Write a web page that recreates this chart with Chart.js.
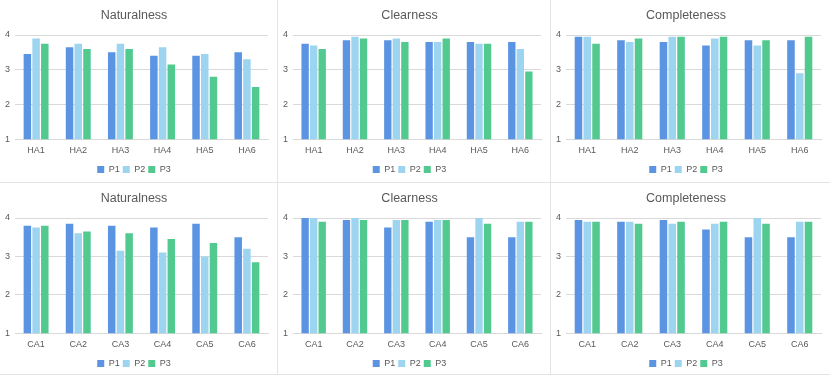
<!DOCTYPE html>
<html><head><meta charset="utf-8">
<script src="https://cdn.jsdelivr.net/npm/chart.js@4"></script>
<style>
body{margin:0;background:#fff;width:830px;height:376px;position:relative;overflow:hidden;}
.p{position:absolute;}
.ln{position:absolute;background:#e4e4e4;}
</style></head><body>
<div class="p" style="left:0;top:0;width:277px;height:182px"><canvas id="c1"></canvas></div>
<div class="p" style="left:278px;top:0;width:272px;height:182px"><canvas id="c2"></canvas></div>
<div class="p" style="left:551px;top:0;width:279px;height:182px"><canvas id="c3"></canvas></div>
<div class="p" style="left:0;top:183px;width:277px;height:193px"><canvas id="c4"></canvas></div>
<div class="p" style="left:278px;top:183px;width:272px;height:193px"><canvas id="c5"></canvas></div>
<div class="p" style="left:551px;top:183px;width:279px;height:193px"><canvas id="c6"></canvas></div>
<div class="ln" style="left:277px;top:0;width:1px;height:375px"></div>
<div class="ln" style="left:550px;top:0;width:1px;height:375px"></div>
<div class="ln" style="left:0;top:182px;width:830px;height:1px"></div>
<div class="ln" style="left:0;top:374px;width:830px;height:1px"></div>
<script>
const haCategories = ['HA1','HA2','HA3','HA4','HA5','HA6'];
const caCategories = ['CA1','CA2','CA3','CA4','CA5','CA6'];
const seriesNames = ['P1','P2','P3'];
const yTicks = [1,2,3,4];

const haNaturalnessP1 = [3.45,3.65,3.5,3.4,3.4,3.5];
const haNaturalnessP2 = [3.9,3.75,3.75,3.65,3.45,3.3];
const haNaturalnessP3 = [3.75,3.6,3.6,3.15,2.8,2.5];

const haClearnessP1 = [3.75,3.85,3.85,3.8,3.8,3.8];
const haClearnessP2 = [3.7,3.95,3.9,3.8,3.75,3.6];
const haClearnessP3 = [3.6,3.9,3.8,3.9,3.75,2.95];

const haCompletenessP1 = [3.95,3.85,3.8,3.7,3.85,3.85];
const haCompletenessP2 = [3.95,3.8,3.95,3.9,3.7,2.9];
const haCompletenessP3 = [3.75,3.9,3.95,3.95,3.85,3.95];

const caNaturalnessP1 = [3.8,3.85,3.8,3.75,3.85,3.5];
const caNaturalnessP2 = [3.75,3.6,3.15,3.1,3.0,3.2];
const caNaturalnessP3 = [3.8,3.65,3.6,3.45,3.35,2.85];

const caClearnessP1 = [4.0,3.95,3.75,3.9,3.5,3.5];
const caClearnessP2 = [4.0,4.0,3.95,3.95,4.0,3.9];
const caClearnessP3 = [3.9,3.95,3.95,3.95,3.85,3.9];

const caCompletenessP1 = [3.95,3.9,3.95,3.7,3.5,3.5];
const caCompletenessP2 = [3.9,3.9,3.85,3.85,4.0,3.9];
const caCompletenessP3 = [3.9,3.85,3.9,3.9,3.85,3.9];

const colors = ['#5b94e2','#9dd4f0','#52c98f'];
const FONT = "'Liberation Sans', Arial, sans-serif";
const TXT = '#595959';

function make(id, title, cats, s1, s2, s3){
  const vals=[s1,s2,s3];
  new Chart(document.getElementById(id), {
    type:'bar',
    data:{labels:cats, datasets: seriesNames.map((n,i)=>({label:n,data:vals[i],backgroundColor:colors[i],borderWidth:0,categoryPercentage:0.62,barPercentage:0.86}))},
    options:{
      responsive:true, maintainAspectRatio:false, animation:false,
      layout:{padding:{left:0,right:9,top:2,bottom:-2}},
      plugins:{
        title:{display:true,text:title,color:TXT,font:{family:FONT,size:12.5,weight:'normal'},padding:{top:6,bottom:12}},
        legend:{position:'bottom',labels:{color:TXT,font:{family:FONT,size:9},boxWidth:7,boxHeight:7,padding:3}},
        tooltip:{enabled:false}
      },
      scales:{
        x:{grid:{display:false,drawTicks:false},border:{color:'#d9d9d9'},ticks:{color:TXT,font:{family:FONT,size:9},padding:6}},
        y:{min:1,max:4,afterBuildTicks:(ax)=>{ax.ticks=yTicks.map(v=>({value:v}));},grid:{color:'#d9d9d9',drawTicks:false},border:{display:false},ticks:{color:TXT,font:{family:FONT,size:9},padding:5}}
      }
    }
  });
}
make('c1','Naturalness',haCategories,haNaturalnessP1,haNaturalnessP2,haNaturalnessP3);
make('c2','Clearness',haCategories,haClearnessP1,haClearnessP2,haClearnessP3);
make('c3','Completeness',haCategories,haCompletenessP1,haCompletenessP2,haCompletenessP3);
make('c4','Naturalness',caCategories,caNaturalnessP1,caNaturalnessP2,caNaturalnessP3);
make('c5','Clearness',caCategories,caClearnessP1,caClearnessP2,caClearnessP3);
make('c6','Completeness',caCategories,caCompletenessP1,caCompletenessP2,caCompletenessP3);
</script>
</body></html>
